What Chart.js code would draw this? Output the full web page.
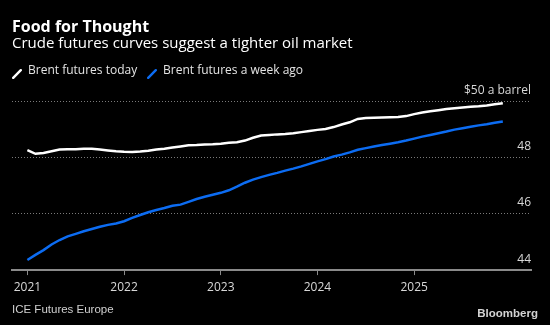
<!DOCTYPE html>
<html>
<head>
<meta charset="utf-8">
<script src="https://cdn.jsdelivr.net/npm/chart.js@4/dist/chart.umd.min.js"></script>
<style>
  html, body { margin: 0; padding: 0; background: #000; }
  #wrap { position: relative; width: 550px; height: 325px; background: #000; overflow: hidden; }
  #wrap div { position: absolute; white-space: nowrap; line-height: 1; }
  .title { left: 12px; top: 18px; font: bold 16px "Open Sans"; color: #fff; }
  .sub { left: 12px; top: 35px; font: 15px "Open Sans"; color: #fff; }
  .leg { top: 64px; font: 12px "Open Sans"; color: #e4e4e4; }
  .icon { top: 66px; }
  .src { left: 12px; top: 304px; font: 11.5px "Liberation Sans"; color: #d0d0d0; }
  .brand { right: 12px; top: 308px; font: bold 11.5px "Liberation Sans"; color: #d4d4d4; }
  canvas { position: absolute; left: 0; top: 0; }
</style>
</head>
<body>
<div id="wrap">
  <canvas id="chart" width="550" height="325"></canvas>
  <div class="title">Food for Thought</div>
  <div class="sub">Crude futures curves suggest a tighter oil market</div>
  <div class="icon" style="left:12px"><svg width="10" height="10"><line x1="1.2" y1="8.8" x2="8.8" y2="1.2" stroke="#ffffff" stroke-width="2.4" stroke-linecap="round"/></svg></div>
  <div class="leg" style="left:28px">Brent futures today</div>
  <div class="icon" style="left:147px"><svg width="10" height="10"><line x1="1.2" y1="8.8" x2="8.8" y2="1.2" stroke="#0c6cf2" stroke-width="2.4" stroke-linecap="round"/></svg></div>
  <div class="leg" style="left:163px">Brent futures a week ago</div>
  <div class="src">ICE Futures Europe</div>
  <div class="brand">Bloomberg</div>
</div>
<script>
// monthly contracts Jan 2021 .. Dec 2025
const months = [];
for (let y = 2021; y <= 2025; y++) {
    for (let m = 0; m < 12; m++) months.push(y + m / 12);
}

const seriesNames = ["Brent futures today", "Brent futures a week ago"];

const today = [
    48.27, 48.14, 48.17, 48.23, 48.29, 48.30, 48.30, 48.32, 48.32, 48.29, 48.26, 48.23,
    48.21, 48.20, 48.22, 48.25, 48.29, 48.32, 48.36, 48.40, 48.44, 48.45, 48.47, 48.48,
    48.50, 48.53, 48.55, 48.61, 48.71, 48.79, 48.81, 48.83, 48.84, 48.87, 48.91, 48.95,
    48.99, 49.02, 49.09, 49.18, 49.26, 49.38, 49.41, 49.42, 49.43, 49.44, 49.45, 49.48,
    49.55, 49.61, 49.65, 49.69, 49.73, 49.76, 49.79, 49.81, 49.83, 49.86, 49.90, 49.94
];

const weekAgo = [
    44.36, 44.54, 44.71, 44.91, 45.07, 45.20, 45.29, 45.38, 45.46, 45.54, 45.61, 45.66,
    45.74, 45.86, 45.96, 46.06, 46.14, 46.21, 46.29, 46.33, 46.43, 46.53, 46.61, 46.68,
    46.75, 46.84, 46.97, 47.11, 47.22, 47.31, 47.39, 47.46, 47.54, 47.61, 47.69, 47.78,
    47.87, 47.95, 48.04, 48.11, 48.19, 48.28, 48.34, 48.40, 48.45, 48.50, 48.55, 48.61,
    48.68, 48.75, 48.81, 48.87, 48.93, 49.00, 49.05, 49.10, 49.15, 49.19, 49.24, 49.29
];

const xTicks = [2021, 2022, 2023, 2024, 2025];
const yTicks = [44, 46, 48, 50];

const pts = arr => arr.map((v, i) => ({ x: months[i], y: v }));

new Chart(document.querySelector("#chart").getContext('2d'), {
    type: 'line',
    data: {
        datasets: [
            { label: seriesNames[0], data: pts(today), borderColor: "#ffffff", borderWidth: 2.5, pointRadius: 0, tension: 0 },
            { label: seriesNames[1], data: pts(weekAgo), borderColor: "#0c6cf2", borderWidth: 2.5, pointRadius: 0, tension: 0 }
        ]
    },
    options: {
        responsive: false,
        animation: false,
        layout: { padding: { left: 12, right: 19, top: 101.5, bottom: 25.5 } },
        plugins: { legend: { display: false }, tooltip: { enabled: false } },
        scales: {
            x: {
                type: 'linear',
                min: 2020.841,
                max: 2026.208,
                afterBuildTicks: s => { s.ticks = xTicks.map(v => ({ value: v })); },
                grid: { drawOnChartArea: false, drawTicks: true, tickLength: 5, color: "#8a8a8a", lineWidth: 1 },
                border: { display: true, color: "#8a8a8a", width: 2 },
                ticks: { color: "#d8d8d8", font: { family: "Open Sans", size: 12 }, padding: 5, maxRotation: 0,
                         callback: v => String(v) }
            },
            y: {
                position: 'right',
                min: 44,
                max: 50,
                afterBuildTicks: s => { s.ticks = yTicks.map(v => ({ value: v })); },
                grid: { drawTicks: false, color: c => (c.tick && c.tick.value === 44) ? 'rgba(0,0,0,0)' : "#7a7a7a", lineWidth: 1 },
                border: { display: false, dash: [1, 2] },
                ticks: { mirror: true, padding: 0, labelOffset: -11, color: "#d8d8d8",
                         font: { family: "Open Sans", size: 12 },
                         callback: v => v === 50 ? "$50 a barrel" : String(v) }
            }
        }
    }
});
</script>
</body>
</html>
